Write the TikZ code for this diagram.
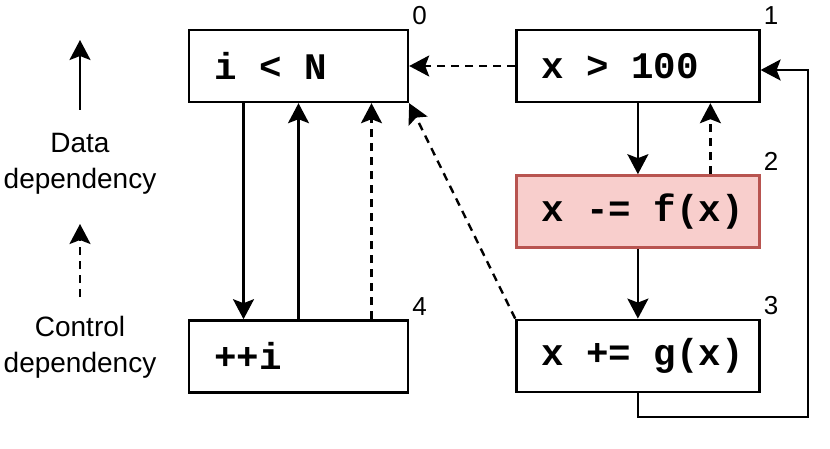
\documentclass[tikz,border=0pt]{standalone}
\usepackage{fontspec}
\setmainfont{Liberation Sans}
\setmonofont{Liberation Mono}
\usetikzlibrary{arrows.meta, positioning}
\definecolor{hotfill}{HTML}{F8CECC}
\definecolor{hotdraw}{HTML}{B85450}
\newcommand{\gap}{\nobreak\hspace{0.6em}\nobreak}

\begin{document}
\begin{tikzpicture}[
    x=1pt, y=-1pt,
    stmt/.style={rectangle, draw=black, line width=2.4pt, minimum height=72pt, inner xsep=25pt, text width=193pt, align=left, font=\fontsize{37.5}{44}\ttfamily\bfseries},
    short/.style={text width=169pt},
    num/.style={anchor=base west, inner sep=0pt, font=\fontsize{26}{30}\selectfont},
    lbl/.style={align=center, font=\fontsize{28}{36}\selectfont},
    arrow/.style={line width=2.4pt, -{Stealth[length=20pt, width=21pt, inset=4pt]}},
    ctrl/.style={arrow, dash pattern=on 8pt off 6pt}
]
    \useasboundingbox (0,0) rectangle (830,449);
    % statements
    \node[stmt, short] (cond) at (298.5,66) {\mbox{i\gap<\gap N}};
    \node[stmt, right=106pt of cond] (cmp) {\mbox{x\gap>\gap 100}};
    \node[stmt, fill=hotfill, draw=hotdraw, below=71pt of cmp] (sub) {\mbox{x\gap-=\gap f(x)}};
    \node[stmt, below=70pt of sub] (add) {\mbox{x\gap+=\gap g(x)}};
    \node[stmt, short, below=216pt of cond] (inc) {++i};
    % statement numbers
    \node[num] (n0) at ([xshift=3pt, yshift=4pt]cond.north east) {0};
    \node[num] (n1) at ([xshift=3pt, yshift=4pt]cmp.north east) {1};
    \node[num] (n2) at ([xshift=3pt, yshift=4pt]sub.north east) {2};
    \node[num] (n3) at ([xshift=3pt, yshift=4pt]add.north east) {3};
    \node[num] (n4) at ([xshift=3pt, yshift=4pt]inc.north east) {4};
    % legend
    \node[lbl] (datalbl) at (80,164) {Data\\dependency};
    \node[lbl] (ctrllbl) at (80,347) {Control\\dependency};
    \coordinate (dtail) at (80,110);
    \coordinate (dhead) at (80,40);
    \coordinate (ctail) at (80,297);
    \coordinate (chead) at (80,224);
    \draw[arrow] (dtail) -- (dhead);
    \draw[ctrl] (ctail) -- (chead);
    % dependencies
    \draw[arrow] ([xshift=-55pt]cond.south) -- ([xshift=-55pt]inc.north);
    \draw[arrow] (inc.north) -- (cond.south);
    \draw[ctrl] ([xshift=73pt]inc.north) -- ([xshift=73pt]cond.south);
    \draw[arrow] (cmp) -- (sub);
    \draw[ctrl] ([xshift=72.5pt]sub.north) -- ([xshift=72.5pt]cmp.south);
    \draw[arrow] (sub) -- (add);
    \draw[ctrl] (cmp.west) -- (cond.east);
    \draw[ctrl] (add.north west) -- (cond.south east);
    \coordinate (loop) at (808,70);
    \draw[arrow] (add.south) -- ++(0,24) -| (loop) -- (cmp.east |- loop);
\end{tikzpicture}
\end{document}
